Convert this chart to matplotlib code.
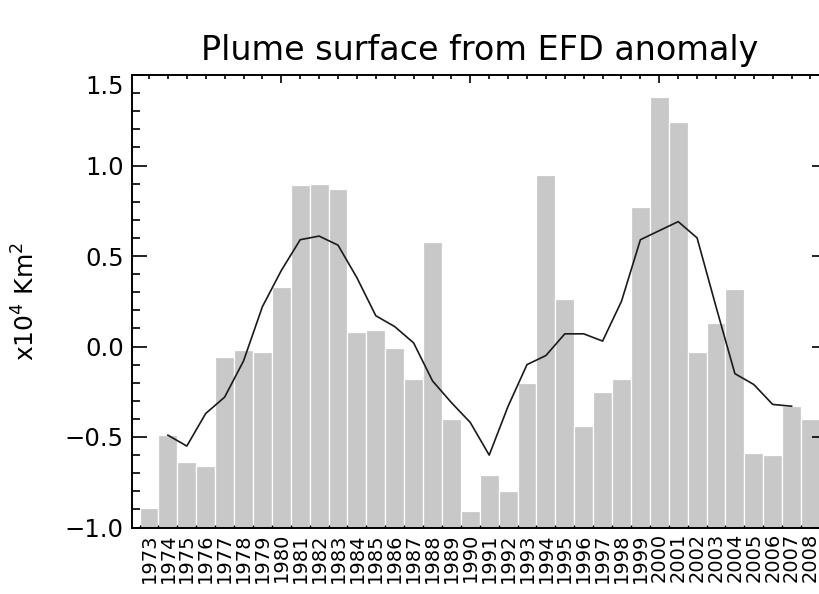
import matplotlib.pyplot as plt
import numpy as np

years = np.arange(1973, 2009)

# yearly anomaly of plume surface (x10^4 km^2)
anomaly = [-0.89, -0.49, -0.64, -0.66, -0.06, -0.02, -0.03, 0.33, 0.89, 0.90,
           0.87, 0.08, 0.09, -0.01, -0.18, 0.58, -0.40, -0.91, -0.71, -0.80,
           -0.20, 0.95, 0.26, -0.44, -0.25, -0.18, 0.77, 1.38, 1.24, -0.03,
           0.13, 0.32, -0.59, -0.60, -0.33, -0.40]

# running mean, not defined at both ends
smooth = [np.nan, -0.49, -0.55, -0.37, -0.28, -0.08, 0.22, 0.42, 0.59, 0.61,
          0.56, 0.38, 0.17, 0.11, 0.02, -0.19, -0.31, -0.42, -0.60, -0.33,
          -0.10, -0.05, 0.07, 0.07, 0.03, 0.25, 0.59, 0.64, 0.69, 0.60,
          0.22, -0.15, -0.21, -0.32, -0.33, np.nan]

ymin, ymax = -1.0, 1.5

plt.rcParams['font.family'] = 'DejaVu Sans'

fig = plt.figure(figsize=(8.2, 5.94), dpi=100)
ax = fig.add_axes([132 / 820, 66.5 / 594, 695.5 / 820, 452.5 / 594])

# bars are filled up from the bottom of the plot
heights = np.array(anomaly) - ymin
ax.bar(years, heights, width=1.0, bottom=ymin, color='#c8c8c8',
       edgecolor='white', linewidth=0.9, zorder=1)
ax.plot(years, smooth, color='#1a1a1a', lw=1.2, zorder=3)

ax.set_xlim(1972.1, 2008.9)
ax.set_ylim(ymin, ymax)

for s in ax.spines.values():
    s.set_linewidth(1.4)
    s.set_zorder(4)

# y axis
ax.set_yticks(np.arange(-1.0, 1.51, 0.5))
ax.set_yticks(np.arange(-1.0, 1.51, 0.1), minor=True)
ax.set_yticklabels(['\u22121.0', '\u22120.5', '0.0', '0.5', '1.0', '1.5'])
ax.tick_params(axis='y', which='major', direction='in', length=11, width=1.2,
               right=True, labelsize=17.5, pad=6)
ax.tick_params(axis='y', which='minor', direction='in', length=5.5, width=1.2,
               right=True)
ax.get_yticklabels()[-1].set_verticalalignment('top')

# bottom: year labels, ticks on bar edges
ax.set_xticks(years)
ax.set_xticklabels([str(y) for y in years], rotation=90, fontsize=14)
ax.set_xticks(np.arange(1972.5, 2009, 1.0), minor=True)
ax.tick_params(axis='x', which='major', length=0, pad=4)
ax.tick_params(axis='x', which='minor', direction='in', length=2.5, width=1.0)

bot = ax.secondary_xaxis('bottom')
bot.set_xticks([1979.5, 1989.5, 1999.5])
bot.set_xticklabels([])
bot.tick_params(direction='in', length=5, width=1.0)
bot.spines['bottom'].set_visible(False)

top = ax.secondary_xaxis('top')
top.set_xticks([1980, 1990, 2000])
top.set_xticks(years, minor=True)
top.set_xticklabels([])
top.tick_params(which='major', direction='in', length=6, width=1.2)
top.tick_params(which='minor', direction='in', length=3, width=1.2)
top.spines['top'].set_visible(False)

ax.set_ylabel('x10$^4$ Km$^2$', fontsize=18, labelpad=18)
ax.set_title('Plume surface from EFD anomaly', fontsize=24, pad=11)

fig.savefig('out.png', dpi=100)
